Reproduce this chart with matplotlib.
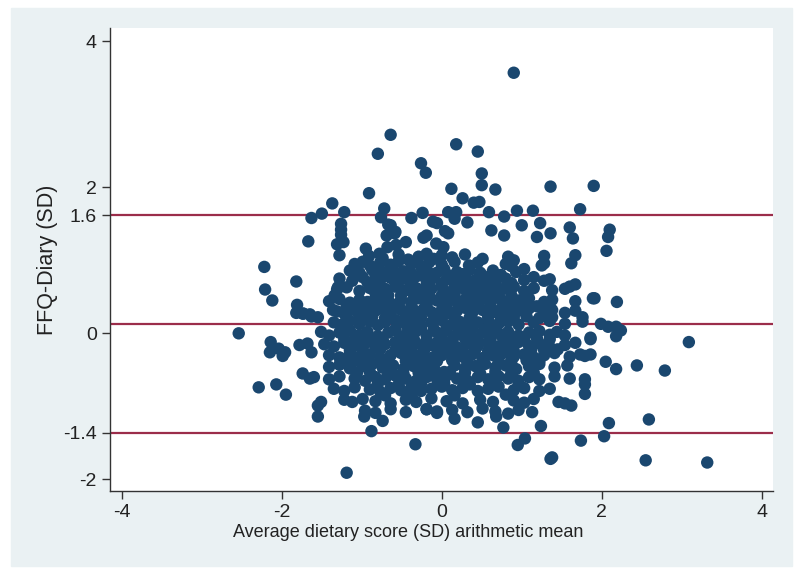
import matplotlib.pyplot as plt
from matplotlib.patches import Rectangle

# Bland-Altman plot: FFQ minus diary vs average dietary score (SD units)
# points (x = average, y = difference)

outer_points = [
    (0.90, 3.57), (-0.64, 2.72), (0.18, 2.59), (0.45, 2.49), (-0.80, 2.46),
    (-0.26, 2.33), (-0.20, 2.20), (0.50, 2.19), (0.50, 2.03), (0.12, 1.98),
    (0.67, 1.97), (1.36, 2.01), (1.90, 2.02), (-0.91, 1.92), (0.26, 1.85),
    (0.40, 1.79), (0.47, 1.80), (-1.37, 1.78), (-0.72, 1.71), (-1.50, 1.64),
    (-1.63, 1.58), (-1.22, 1.66), (-0.76, 1.59), (-0.24, 1.65), (0.08, 1.66),
    (0.18, 1.66), (0.59, 1.66), (0.94, 1.68), (1.14, 1.68), (1.73, 1.70),
    (-0.38, 1.58), (0.16, 1.57), (0.78, 1.60), (0.32, 1.52), (-0.06, 1.51),
    (1.00, 1.48), (1.23, 1.51), (1.60, 1.45), (2.10, 1.42), (2.08, 1.32),
    (2.06, 1.13), (-0.64, 1.48), (-1.26, 1.50), (-1.26, 1.42), (-1.26, 1.35),
    (-1.23, 1.25), (-1.31, 1.22), (-1.67, 1.26), (-1.28, 1.07), (-0.59, 1.37),
    (0.08, 1.37), (0.62, 1.41), (0.78, 1.34), (1.19, 1.32), (1.36, 1.37),
    (1.64, 1.30), (-0.67, 1.49), (-0.11, 1.53), (-0.69, 1.34), (-0.58, 1.39),
    (0.04, 1.40), (-0.23, 1.31), (-0.19, 1.34), (-0.45, 1.25), (-0.07, 1.23),
    (0.02, 1.18), (-0.95, 1.16), (-0.78, 1.09), (-0.68, 1.18), (-0.57, 1.21),
    (-2.22, 0.91), (-2.21, 0.60), (-2.12, 0.45), (-1.82, 0.71), (-1.81, 0.39),
    (-1.82, 0.28), (-1.73, 0.27), (-1.63, 0.23), (-1.55, 0.22), (-2.54, 0.00),
    (-2.14, -0.12), (-2.15, -0.26), (-2.04, -0.21), (-1.96, -0.26), (-1.99, -0.31),
    (-1.78, -0.16), (-1.68, -0.14), (-1.63, -0.26), (-2.29, -0.74), (-2.07, -0.70),
    (-1.95, -0.84), (-1.74, -0.55), (-1.65, -0.62), (-1.55, -0.99), (-1.55, -1.14),
    (-1.51, -0.94), (-0.88, -1.34), (-0.97, -1.14), (-0.74, -1.20), (-1.19, -1.91),
    (-0.33, -1.52), (0.95, -1.53), (1.04, -1.44), (0.77, -1.29), (1.24, -1.27),
    (1.36, -1.72), (1.38, -1.70), (1.74, -1.47), (2.03, -1.41), (2.09, -1.23),
    (2.59, -1.18), (2.55, -1.74), (3.32, -1.77), (3.09, -0.12), (2.79, -0.51),
    (2.44, -0.44), (2.18, -0.49), (2.05, -0.39), (1.79, -0.83), (1.79, -0.70),
    (1.62, -0.99), (1.54, -0.96), (1.46, -0.94), (1.13, -1.08), (0.45, -1.22),
    (0.16, -1.17), (-0.06, -1.07), (-0.19, -1.04), (0.68, -1.14), (2.24, 0.04),
    (2.18, -0.04), (2.18, 0.09), (1.99, 0.13), (2.08, 0.09), (2.19, 0.43),
    (1.91, 0.48), (1.76, 0.22), (1.86, -0.08), (1.86, -0.29), (1.79, -0.31),
    (1.60, 0.64), (1.67, 0.67), (1.67, 1.07), (1.62, 0.96), (1.28, 0.96),
    (-1.30, 0.63), (-1.34, 0.52), (-1.74, 0.27), (-1.65, 0.26), (-1.36, 0.32),
]

core_points = [
    (-0.91, 1.06), (-0.74, 1.03), (-0.54, 1.08), (-0.42, 1.01), (-0.29, 1.05),
    (-0.19, 1.09), (-0.10, 1.02), (0.00, 1.07), (0.13, 1.04), (0.29, 1.08),
    (0.51, 1.02), (0.83, 1.05), (0.90, 1.00), (1.28, 1.06),
    (-1.09, 0.95), (-0.99, 0.98), (-0.90, 0.93), (-0.77, 0.97), (-0.64, 0.94),
    (-0.54, 0.99), (-0.38, 0.95), (-0.26, 0.92), (-0.16, 0.97), (0.00, 0.94),
    (0.16, 0.98), (0.34, 0.93), (0.45, 0.97), (0.80, 0.95), (0.87, 0.92), (1.25, 0.93),
    (-1.15, 0.86), (-1.03, 0.83), (-0.87, 0.87), (-0.74, 0.84), (-0.61, 0.88),
    (-0.48, 0.85), (-0.38, 0.82), (-0.19, 0.86), (-0.06, 0.83), (0.03, 0.88),
    (0.19, 0.84), (0.35, 0.87), (0.48, 0.83), (0.64, 0.86), (0.93, 0.84), (1.03, 0.88),
    (-1.28, 0.75), (-1.12, 0.72), (-0.99, 0.77), (-0.77, 0.73), (-0.64, 0.76),
    (-0.54, 0.71), (-0.45, 0.75), (-0.32, 0.78), (-0.19, 0.72), (-0.10, 0.76),
    (0.06, 0.74), (0.19, 0.70), (0.29, 0.77), (0.42, 0.73), (0.58, 0.76),
    (0.67, 0.71), (0.80, 0.75), (1.03, 0.73), (1.15, 0.77), (1.28, 0.72), (1.35, 0.74),
    (-1.31, 0.60), (-1.19, 0.63), (-1.03, 0.58), (-0.90, 0.62), (-0.80, 0.57),
    (-0.71, 0.61), (-0.58, 0.64), (-0.45, 0.59), (-0.32, 0.62), (-0.22, 0.57),
    (-0.13, 0.61), (0.00, 0.64), (0.13, 0.58), (0.26, 0.62), (0.38, 0.59),
    (0.51, 0.63), (0.64, 0.57), (0.77, 0.61), (0.90, 0.64), (1.03, 0.58),
    (1.15, 0.62), (1.38, 0.59), (1.54, 0.61),
    (-1.41, 0.44), (-1.28, 0.47), (-1.15, 0.42), (-1.03, 0.46), (-0.93, 0.43),
    (-0.83, 0.48), (-0.74, 0.44), (-0.64, 0.41), (-0.51, 0.46), (-0.38, 0.43),
    (-0.29, 0.48), (-0.19, 0.42), (-0.06, 0.45), (0.06, 0.49), (0.19, 0.43),
    (0.29, 0.46), (0.38, 0.41), (0.51, 0.47), (0.61, 0.43), (0.74, 0.46),
    (0.83, 0.42), (0.96, 0.45), (1.09, 0.48), (1.28, 0.43), (1.38, 0.46),
    (1.67, 0.44), (1.89, 0.48),
    (-1.31, 0.30), (-1.22, 0.27), (-1.09, 0.32), (-0.96, 0.28), (-0.83, 0.31),
    (-0.74, 0.34), (-0.64, 0.28), (-0.51, 0.32), (-0.42, 0.27), (-0.32, 0.30),
    (-0.22, 0.34), (-0.13, 0.29), (0.00, 0.32), (0.10, 0.27), (0.19, 0.31),
    (0.29, 0.35), (0.38, 0.28), (0.51, 0.32), (0.64, 0.29), (0.74, 0.33),
    (0.83, 0.27), (0.96, 0.31), (1.09, 0.34), (1.28, 0.29), (1.38, 0.32),
    (1.54, 0.28), (1.67, 0.31),
    (-1.35, 0.15), (-1.25, 0.12), (-1.15, 0.17), (-1.03, 0.13), (-0.90, 0.16),
    (-0.80, 0.11), (-0.71, 0.15), (-0.58, 0.18), (-0.45, 0.13), (-0.35, 0.16),
    (-0.26, 0.11), (-0.13, 0.15), (0.00, 0.18), (0.13, 0.12), (0.22, 0.16),
    (0.32, 0.11), (0.45, 0.15), (0.58, 0.18), (0.71, 0.13), (0.83, 0.16),
    (0.96, 0.12), (1.15, 0.15), (1.35, 0.17), (1.54, 0.13), (1.76, 0.16),
    (-1.51, 0.02), (-1.41, -0.03), (-1.28, 0.01), (-1.15, 0.04), (-1.03, -0.02),
    (-0.93, 0.02), (-0.80, -0.04), (-0.67, 0.01), (-0.58, 0.04), (-0.45, -0.02),
    (-0.32, 0.03), (-0.19, -0.03), (-0.06, 0.01), (0.06, 0.04), (0.19, -0.02),
    (0.29, 0.02), (0.38, -0.04), (0.51, 0.01), (0.64, 0.04), (0.74, -0.02),
    (0.83, 0.02), (0.96, -0.03), (1.09, 0.01), (1.22, 0.03), (1.35, -0.02),
    (1.44, 0.02), (1.54, -0.03), (1.86, -0.06),
    (-1.47, -0.15), (-1.35, -0.18), (-1.22, -0.13), (-1.09, -0.17), (-0.96, -0.14),
    (-0.83, -0.19), (-0.71, -0.15), (-0.58, -0.12), (-0.45, -0.17), (-0.32, -0.14),
    (-0.19, -0.18), (-0.06, -0.13), (0.06, -0.16), (0.19, -0.19), (0.32, -0.14),
    (0.45, -0.17), (0.58, -0.13), (0.71, -0.18), (0.83, -0.15), (0.96, -0.12),
    (1.09, -0.17), (1.22, -0.14), (1.35, -0.19), (1.54, -0.16), (1.67, -0.13),
    (-1.41, -0.30), (-1.28, -0.33), (-1.15, -0.28), (-1.03, -0.32), (-0.90, -0.29),
    (-0.77, -0.34), (-0.64, -0.30), (-0.51, -0.27), (-0.38, -0.32), (-0.26, -0.29),
    (-0.13, -0.34), (0.00, -0.30), (0.13, -0.27), (0.26, -0.32), (0.38, -0.29),
    (0.51, -0.34), (0.64, -0.30), (0.77, -0.27), (0.90, -0.32), (1.03, -0.29),
    (1.15, -0.33), (1.28, -0.30), (1.41, -0.27), (1.60, -0.32), (1.73, -0.29),
    (-1.41, -0.46), (-1.28, -0.43), (-1.15, -0.48), (-0.99, -0.45), (-0.87, -0.42),
    (-0.74, -0.47), (-0.61, -0.44), (-0.48, -0.49), (-0.35, -0.45), (-0.22, -0.42),
    (-0.10, -0.47), (0.16, -0.44), (0.29, -0.48), (0.42, -0.45), (0.54, -0.42),
    (0.67, -0.47), (0.80, -0.44), (0.93, -0.49), (1.09, -0.45), (1.22, -0.42),
    (1.41, -0.47), (1.57, -0.44),
    (-1.60, -0.60), (-1.41, -0.63), (-1.28, -0.59), (-1.09, -0.62), (-0.96, -0.65),
    (-0.83, -0.60), (-0.71, -0.63), (-0.58, -0.58), (-0.45, -0.62), (-0.32, -0.65),
    (-0.19, -0.60), (-0.06, -0.63), (0.06, -0.58), (0.19, -0.62), (0.32, -0.65),
    (0.45, -0.60), (0.58, -0.63), (0.71, -0.59), (0.83, -0.62), (0.96, -0.65),
    (1.09, -0.60), (1.22, -0.63), (1.41, -0.59), (1.60, -0.62), (1.79, -0.63),
    (-1.35, -0.76), (-1.22, -0.79), (-1.09, -0.74), (-0.90, -0.77), (-0.77, -0.80),
    (-0.64, -0.75), (-0.51, -0.78), (-0.38, -0.74), (-0.26, -0.79), (-0.13, -0.76),
    (0.00, -0.73), (0.13, -0.78), (0.26, -0.75), (0.45, -0.79), (0.58, -0.76),
    (0.71, -0.73), (0.90, -0.78), (1.03, -0.75), (1.22, -0.79), (1.35, -0.76),
    (-1.22, -0.91), (-1.12, -0.94), (-0.99, -0.90), (-0.83, -0.93), (-0.64, -0.96),
    (-0.45, -0.91), (-0.32, -0.94), (-0.13, -0.89), (0.06, -0.93), (0.26, -0.96),
    (0.48, -0.91), (0.64, -0.94), (0.90, -0.92), (1.03, -0.95), (1.15, -0.90),
    (-0.96, -1.06), (-0.83, -1.09), (-0.64, -1.04), (-0.45, -1.08), (-0.19, -1.04),
    (-0.06, -1.09), (0.13, -1.05), (0.32, -1.08), (0.51, -1.03), (0.67, -1.07),
    (0.83, -1.10), (0.96, -1.05),
]

# extra points where the cloud is solid in the middle
dense_points = [
    (-0.45, 0.22), (-0.38, 0.38), (-0.26, 0.22), (-0.19, 0.38), (-0.06, 0.24),
    (0.06, 0.38), (0.16, 0.22), (0.26, 0.38), (0.35, 0.22), (0.45, 0.38),
    (-0.51, 0.52), (-0.35, 0.53), (-0.16, 0.52), (0.00, 0.52), (0.16, 0.53),
    (0.32, 0.52), (-0.58, 0.06), (-0.42, 0.06), (-0.26, 0.07), (-0.10, 0.06),
    (0.06, 0.08), (0.22, 0.06), (0.38, 0.07), (0.54, 0.06), (-0.51, -0.08),
    (-0.35, -0.08), (-0.19, -0.09), (0.00, -0.08), (0.13, -0.09), (0.29, -0.07),
    (0.45, -0.09), (0.61, -0.08), (-0.58, -0.23), (-0.38, -0.24), (-0.22, -0.23),
    (-0.06, -0.22), (0.10, -0.24), (0.26, -0.23), (0.42, -0.22), (0.58, -0.24),
    (-0.58, 0.68), (-0.38, 0.68), (-0.19, 0.66), (0.00, 0.68), (0.16, 0.66),
    (0.35, 0.68), (-0.45, -0.38), (-0.26, -0.39), (-0.06, -0.38), (0.13, -0.37),
    (0.32, -0.39), (0.51, -0.38), (-0.29, -0.54), (-0.10, -0.55), (0.10, -0.53),
    (0.29, -0.54), (0.48, -0.55),
    (-0.83, 0.80), (-0.67, 0.81), (-0.51, 0.79), (-0.26, 0.80), (-0.13, 0.81),
    (0.10, 0.79), (0.26, 0.81), (0.51, 0.79), (0.74, 0.80),
    (-0.87, 0.37), (-0.67, 0.37), (-0.54, 0.38), (0.61, 0.37), (0.80, 0.36),
    (0.93, 0.38), (1.19, 0.37),
    (-1.03, 0.22), (-0.87, 0.23), (-0.71, 0.21), (0.58, 0.23), (0.74, 0.21),
    (0.90, 0.22), (1.06, 0.23), (1.22, 0.21),
    (-1.09, -0.08), (-0.90, -0.07), (-0.74, -0.09), (0.77, -0.08), (0.90, -0.07),
    (1.03, -0.09), (1.19, -0.07),
    (-0.99, -0.23), (-0.77, -0.22), (0.74, -0.23), (0.90, -0.24), (1.12, -0.22),
    (-0.93, -0.38), (-0.67, -0.37), (0.71, -0.39), (0.87, -0.38), (1.06, -0.37),
    (-0.90, -0.53), (-0.67, -0.54), (-0.48, -0.55), (0.67, -0.53), (0.87, -0.54),
    (1.15, -0.54),
    (-0.80, -0.69), (-0.54, -0.70), (-0.26, -0.69), (0.03, -0.68), (0.35, -0.70),
    (0.64, -0.69), (0.96, -0.70),
    (-0.71, -0.85), (-0.38, -0.84), (0.16, -0.85), (0.80, -0.84),
    (-0.67, 0.52), (-0.83, 0.55), (0.45, 0.53), (0.58, 0.52), (0.71, 0.53),
    (0.87, 0.52), (-0.80, 0.68), (-0.93, 0.70), (0.48, 0.68), (0.64, 0.67),
    (0.87, 0.69), (-1.03, 0.37), (-1.19, 0.37), (1.03, 0.38), (-1.19, 0.22),
    (1.38, 0.22), (-1.22, -0.08), (1.35, -0.08), (-1.15, -0.23), (1.28, -0.23),
    (1.45, -0.22), (-1.09, -0.38), (1.22, -0.38), (-1.22, -0.38), (-1.06, -0.54),
    (0.03, -0.53), (-0.19, -0.53),
]

mean_diff = 0.13
upper_loa = 1.62
lower_loa = -1.36

xticks = [-4, -2, 0, 2, 4]
yticks = [-2, lower_loa, 0, upper_loa, 2, 4]
ytick_labels = ["-2", "-1.4", "0", "1.6", "2", "4"]

pts = outer_points + core_points + dense_points
avg = [p[0] for p in pts]
diff = [p[1] for p in pts]

plt.rcParams['font.family'] = ['Liberation Sans', 'DejaVu Sans']

fig = plt.figure(figsize=(8, 5.76), dpi=100, facecolor='white')
# light Stata-style background panel behind the plot region
fig.add_artist(Rectangle((11 / 800, 10 / 576), 781 / 800, 558 / 576,
                         transform=fig.transFigure, color='#eaf1f3', zorder=-10))

ax = fig.add_axes([0.1375, 0.1476, 0.8285, 0.8034])
ax.set_zorder(5)
ax.set_facecolor('white')

for v in [upper_loa, mean_diff, lower_loa]:
    ax.axhline(v, color='#9b2d4a', lw=1.6, zorder=1)

ax.scatter(avg, diff, s=80, color='#1a476f', edgecolors='none', zorder=2)

ax.set_xlim(-4.15, 4.14)
ax.set_ylim(-2.16, 4.18)
ax.set_xticks(xticks)
ax.set_xticklabels([str(t) for t in xticks])
ax.set_yticks(yticks)
ax.set_yticklabels(ytick_labels)
ax.tick_params(direction='out', length=6, width=1, color='#333333',
               labelsize=14, labelcolor='#222222')

for side in ['top', 'right']:
    ax.spines[side].set_visible(False)
for side in ['left', 'bottom']:
    ax.spines[side].set_color('#333333')
    ax.spines[side].set_linewidth(1)

ax.set_xlabel("Average dietary score (SD) arithmetic mean", fontsize=13, color='#222222')
ax.xaxis.set_label_coords(0.45, -0.072)
ax.set_ylabel("FFQ-Diary (SD)", fontsize=15.5, color='#222222', labelpad=4)

fig.savefig("out.png", dpi=100, facecolor=fig.get_facecolor())
